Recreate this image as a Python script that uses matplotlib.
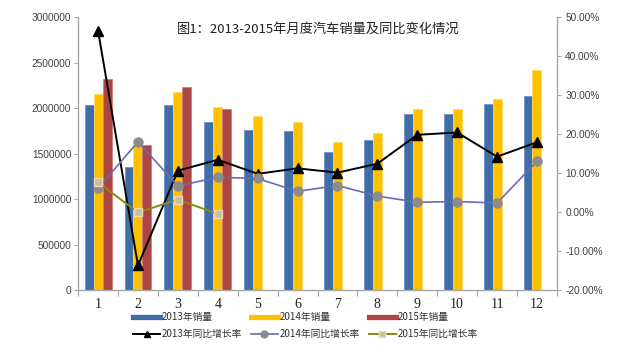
import matplotlib
matplotlib.use("Agg")
import matplotlib.pyplot as plt
from matplotlib.lines import Line2D
import numpy as np

plt.rcParams["font.family"] = ["Noto Sans CJK SC", "DejaVu Sans"]

# ---------------------------------------------------------------------------
# Data
# ---------------------------------------------------------------------------
months = list(range(1, 13))
sales_2013 = [2034600, 1355000, 2034000, 1847700, 1758200, 1753000,
              1520000, 1645000, 1934000, 1931000, 2040000, 2130000]
sales_2014 = [2159000, 1597000, 2172800, 2008600, 1912000, 1846000,
              1623000, 1722000, 1989000, 1989000, 2096000, 2414000]
sales_2015 = [2318900, 1589500, 2236000, 1991000]

growth_2013 = [46.5, -13.7, 10.6, 13.4, 9.8, 11.2, 10.1, 12.4, 19.8, 20.4, 14.2, 17.9]
growth_2014 = [6.1, 18.0, 6.7, 8.9, 8.6, 5.3, 6.8, 4.1, 2.5, 2.7, 2.3, 13.0]
growth_2015 = [7.6, -0.1, 3.2, -0.5]

labels_bar = ["2013年销量", "2014年销量", "2015年销量"]
labels_line = ["2013年同比增长率", "2014年同比增长率", "2015年同比增长率"]
title = "图1：2013-2015年月度汽车销量及同比变化情况"

# colours
BLUE = "#3F6DA8"
YELLOW = "#FFC000"
RED = "#AD4545"
GREY_TXT = "#404040"
SPINE = "#A6A6A6"

fig = plt.figure(figsize=(6.3, 3.55), dpi=100)
ax = fig.add_axes([0.124, 0.183, 0.760, 0.769])
ax2 = ax.twinx()

x = np.array(months, dtype=float)
w = 0.225
ax.bar(x - w, sales_2013, width=w, color=BLUE, edgecolor="#6F93C4", linewidth=0.6)
ax.bar(x, sales_2014, width=w, color=YELLOW, edgecolor="#FFD966", linewidth=0.6)
ax.bar(x[:len(sales_2015)] + w, sales_2015, width=w, color=RED,
       edgecolor="#CF7F7F", linewidth=0.6)

ax.set_xlim(0.5, 12.5)
ax.set_ylim(0, 3000000)
ax.set_yticks(np.arange(0, 3000001, 500000))
ax.set_yticklabels([f"{v:d}" for v in range(0, 3000001, 500000)],
                   fontsize=7.3, color=GREY_TXT, family="Liberation Sans")

# category boundaries as ticks, labels at the centres
ax.set_xticks(np.arange(0.5, 12.6, 1.0))
ax.set_xticklabels([])
ax.set_xticks(x, minor=True)
ax.set_xticklabels([str(m) for m in months], minor=True, fontsize=10,
                   family="Liberation Serif", color="#202020")
ax.tick_params(axis="x", which="major", length=4, color=SPINE, direction="out")
ax.tick_params(axis="x", which="minor", length=0, pad=5.5)
ax.tick_params(axis="y", length=3, color=SPINE, pad=2)

# growth lines on the secondary axis
ax2.plot(x, growth_2013, color="black", lw=1.4, marker="^", ms=6.5,
         markerfacecolor="black", markeredgecolor="black")
ax2.plot(x, growth_2014, color="#6A6AAE", lw=1.2, marker="o", ms=6.5,
         markerfacecolor="#8C8C8C", markeredgecolor="#8C8C8C")
ax2.plot(x[:len(growth_2015)], growth_2015, color="#8A8A10", lw=1.4, marker="s",
         ms=6, markerfacecolor="#C9C0A0", markeredgecolor="#F2D7B0")

ax2.set_ylim(-20, 50)
ax2.set_yticks(np.arange(-20, 51, 10))
ax2.set_yticklabels([f"{v:.2f}%" for v in np.arange(-20, 51, 10)],
                    fontsize=7.3, color=GREY_TXT, family="Liberation Sans")
ax2.tick_params(axis="y", length=3, color=SPINE, pad=3)

for a in (ax, ax2):
    a.spines["top"].set_visible(False)
    for s in ("left", "right", "bottom"):
        a.spines[s].set_color(SPINE)
        a.spines[s].set_linewidth(1.0)
ax.spines["right"].set_visible(False)
ax2.spines["left"].set_visible(False)
ax2.spines["bottom"].set_visible(False)

fig.text(318 / 630, 1 - 29 / 355, title, ha="center", va="center",
         fontsize=9.5, color="#202020")

# legend: bars in the first row, lines in the second
handles = [
    Line2D([], [], color=BLUE, lw=3.8),
    Line2D([], [], color="black", lw=1.4, marker="^", ms=5),
    Line2D([], [], color=YELLOW, lw=3.8),
    Line2D([], [], color="#6A6AAE", lw=1.2, marker="o", ms=5,
           markerfacecolor="#8C8C8C", markeredgecolor="#8C8C8C"),
    Line2D([], [], color=RED, lw=3.8),
    Line2D([], [], color="#8A8A10", lw=1.4, marker="s", ms=5,
           markerfacecolor="#C9C0A0", markeredgecolor="#F2D7B0"),
]
labels = [labels_bar[0], labels_line[0], labels_bar[1], labels_line[1],
          labels_bar[2], labels_line[2]]
fig.legend(handles, labels, ncol=3, loc="upper left",
           bbox_to_anchor=(133 / 630, 1 - 312 / 355), frameon=False,
           fontsize=7.0, handlelength=2.8, handletextpad=0.15,
           columnspacing=0.9, labelspacing=0.75, borderpad=0,
           borderaxespad=0, labelcolor="#303030")

fig.savefig("out.png", dpi=100)
